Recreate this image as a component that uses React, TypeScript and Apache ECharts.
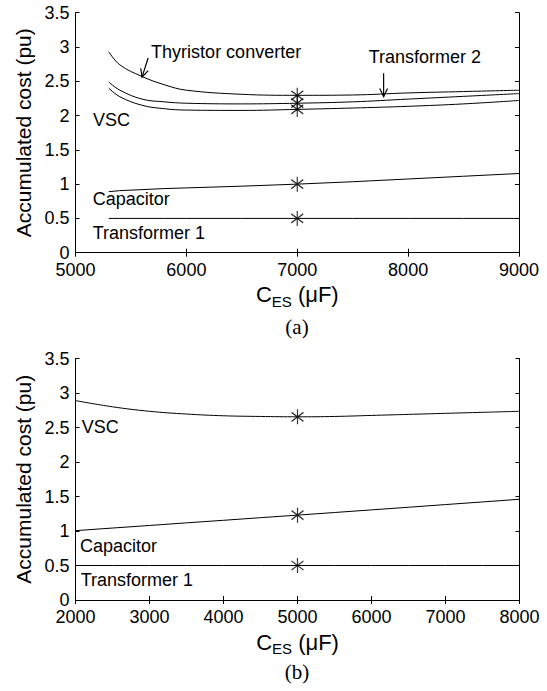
import React, { useEffect, useRef } from "react";
import * as echarts from "echarts";

// ---- data: plot (a) ----
const xA = [5300, 5400, 5600, 5800, 6000, 6500, 7000, 7500, 8000, 8500, 9000];
const thyristorA = [2.93, 2.74, 2.57, 2.45, 2.37, 2.31, 2.295, 2.30, 2.33, 2.35, 2.37];
const transformer2A = [2.49, 2.37, 2.24, 2.2, 2.18, 2.17, 2.18, 2.2, 2.24, 2.28, 2.32];
const vscA = [2.4, 2.275, 2.15, 2.1, 2.08, 2.075, 2.09, 2.11, 2.135, 2.17, 2.22];
const capacitorA = [0.89, 0.905, 0.92, 0.935, 0.945, 0.97, 1.0, 1.035, 1.075, 1.115, 1.155];
const transformer1A = [0.5, 0.5, 0.5, 0.5, 0.5, 0.5, 0.5, 0.5, 0.5, 0.5, 0.5];
const optimumA = 7000;

// ---- data: plot (b) ----
const xB = [2000, 2500, 3000, 3500, 4000, 4500, 5000, 5500, 6000, 6500, 7000, 7500, 8000];
const vscB = [2.89, 2.8, 2.735, 2.695, 2.67, 2.66, 2.655, 2.66, 2.675, 2.69, 2.705, 2.72, 2.735];
const capacitorB = [1.005, 1.043, 1.08, 1.118, 1.155, 1.193, 1.23, 1.268, 1.306, 1.344, 1.383, 1.421, 1.46];
const transformer1B = [0.5, 0.5, 0.5, 0.5, 0.5, 0.5, 0.5, 0.5, 0.5, 0.5, 0.5, 0.5, 0.5];
const optimumB = 5000;

// axis ranges / ticks
const yTicks = { min: 0, max: 3.5, interval: 0.5 };
const xRangeA = { min: 5000, max: 9000, interval: 1000 };
const xRangeB = { min: 2000, max: 8000, interval: 1000 };

// annotations in data coordinates
const labelsA = [
  { text: "Thyristor converter", x: 5682, y: 2.934 },
  { text: "Transformer 2", x: 7644, y: 2.854 },
  { text: "VSC", x: 5158, y: 1.935 },
  { text: "Capacitor", x: 5155, y: 0.776 },
  { text: "Transformer 1", x: 5155, y: 0.287 },
];
const arrowsA = [
  { from: [5655, 2.84], to: [5600, 2.56] },
  { from: [7779, 2.616], to: [7779, 2.275] },
];
const labelsB = [
  { text: "VSC", x: 2084, y: 2.507 },
  { text: "Capacitor", x: 2061, y: 0.783 },
  { text: "Transformer 1", x: 2070, y: 0.283 },
];

const FONT = "'Liberation Sans', Arial, sans-serif";
const SERIF = "'Liberation Serif', 'Times New Roman', serif";
const STAR = "path://M0,-1L0,1M-0.8,-0.6L0.8,0.6M-0.8,0.6L0.8,-0.6";

function pairs(xs: number[], ys: number[]) {
  return xs.map((x, i) => [x, ys[i]]);
}

export default function App() {
  const ref = useRef<HTMLDivElement>(null);
  useEffect(() => {
    if (!ref.current) return;
    const chart = echarts.init(ref.current, undefined, { renderer: "svg" });

    const xName = {
      name: "{c|C}{s|ES}{c| (μF)}",
      nameLocation: "middle" as const,
      nameGap: 31,
      nameTextStyle: {
        rich: {
          c: { fontSize: 22, fontFamily: FONT, color: "#000", verticalAlign: "top" },
          s: { fontSize: 15, fontFamily: FONT, color: "#000", padding: [10, 0, 0, 0], verticalAlign: "top" },
        },
      },
    };
    const axisCommon = {
      axisLine: { show: true, lineStyle: { color: "#000", width: 1 } },
      axisTick: { show: true, inside: true, length: 4, lineStyle: { color: "#000" } },
      splitLine: { show: false },
    };
    const fmt = (v: number) => String(v);
    const mainX = (gi: number, range: any) => ({
      type: "value" as const,
      gridIndex: gi,
      position: "bottom" as const,
      ...range,
      ...axisCommon,
      axisLabel: { color: "#000", fontSize: 18, fontFamily: FONT, margin: 8, formatter: fmt },
      ...xName,
    });
    const topX = (gi: number, range: any) => ({
      type: "value" as const,
      gridIndex: gi,
      position: "top" as const,
      ...range,
      ...axisCommon,
      axisLabel: { show: false },
    });
    const mainY = (gi: number) => ({
      type: "value" as const,
      gridIndex: gi,
      position: "left" as const,
      ...yTicks,
      ...axisCommon,
      axisLabel: { color: "#000", fontSize: 18, fontFamily: FONT, margin: 6, formatter: fmt },
      name: "Accumulated cost (pu)",
      nameLocation: "middle" as const,
      nameGap: 38,
      nameTextStyle: { color: "#000", fontSize: 21, fontFamily: FONT },
    });
    const rightY = (gi: number) => ({
      type: "value" as const,
      gridIndex: gi,
      position: "right" as const,
      ...yTicks,
      ...axisCommon,
      axisLabel: { show: false },
    });

    const line = (name: string, xi: number, yi: number, xs: number[], ys: number[], smooth: number | boolean) => ({
      type: "line" as const,
      name,
      xAxisIndex: xi,
      yAxisIndex: yi,
      data: pairs(xs, ys),
      showSymbol: false,
      symbol: "none",
      smooth,
      lineStyle: { color: "#000", width: 1 },
      silent: true,
    });
    const stars = (xi: number, yi: number, xs: number[], opt: number, lists: number[][]) => {
      const idx = xs.indexOf(opt);
      return {
        type: "scatter" as const,
        xAxisIndex: xi,
        yAxisIndex: yi,
        symbol: STAR,
        symbolSize: [12, 15],
        itemStyle: { color: "none", borderColor: "#000", borderWidth: 1.3 },
        data: lists.map((l) => [opt, l[idx]]),
        silent: true,
        z: 5,
      };
    };

    chart.setOption({
      animation: false,
      backgroundColor: "#fff",
      grid: [
        { left: 75.5, width: 443.5, top: 12.7, height: 240 },
        { left: 75.5, width: 444, top: 358.5, height: 241.5 },
      ],
      xAxis: [mainX(0, xRangeA), topX(0, xRangeA), mainX(1, xRangeB), topX(1, xRangeB)],
      yAxis: [mainY(0), rightY(0), mainY(1), rightY(1)],
      series: [
        line("Thyristor converter", 0, 0, xA, thyristorA, 0.4),
        line("Transformer 2", 0, 0, xA, transformer2A, 0.4),
        line("VSC", 0, 0, xA, vscA, 0.4),
        line("Capacitor", 0, 0, xA, capacitorA, false),
        line("Transformer 1", 0, 0, xA, transformer1A, false),
        stars(0, 0, xA, optimumA, [thyristorA, transformer2A, vscA, capacitorA, transformer1A]),
        line("VSC", 2, 2, xB, vscB, 0.4),
        line("Capacitor", 2, 2, xB, capacitorB, false),
        line("Transformer 1", 2, 2, xB, transformer1B, false),
        stars(2, 2, xB, optimumB, [vscB, capacitorB, transformer1B]),
      ],
    });

    const px = (xi: number, yi: number, p: number[]) =>
      chart.convertToPixel({ xAxisIndex: xi, yAxisIndex: yi } as any, p) as number[];

    const graphics: any[] = [];
    const addLabels = (labels: any[], xi: number, yi: number) => {
      labels.forEach((l) => {
        const [x, y] = px(xi, yi, [l.x, l.y]);
        graphics.push({
          type: "text",
          x,
          y,
          silent: true,
          style: { text: l.text, fontSize: 18, fontFamily: FONT, fill: "#000", align: "left", verticalAlign: "middle" },
        });
      });
    };
    addLabels(labelsA, 0, 0);
    addLabels(labelsB, 2, 2);
    arrowsA.forEach((a) => {
      const [x1, y1] = px(0, 0, a.from);
      const [x2, y2] = px(0, 0, a.to);
      const ang = Math.atan2(y2 - y1, x2 - x1);
      const L = 9;
      const w = 0.45;
      const p1 = [x2 - L * Math.cos(ang - w), y2 - L * Math.sin(ang - w)];
      const p2 = [x2 - L * Math.cos(ang + w), y2 - L * Math.sin(ang + w)];
      graphics.push({ type: "line", silent: true, shape: { x1, y1, x2, y2 }, style: { stroke: "#000", lineWidth: 1.2 } });
      graphics.push({ type: "polyline", silent: true, shape: { points: [p1, [x2, y2], p2] }, style: { stroke: "#000", lineWidth: 1.2, fill: "none" } });
    });
    const captionX = 297;
    graphics.push({ type: "text", x: captionX, y: 327, silent: true, style: { text: "(a)", fontSize: 21, fontFamily: SERIF, fill: "#000", align: "center", verticalAlign: "middle" } });
    graphics.push({ type: "text", x: captionX, y: 672, silent: true, style: { text: "(b)", fontSize: 21, fontFamily: SERIF, fill: "#000", align: "center", verticalAlign: "middle" } });
    chart.setOption({ graphic: graphics });

    return () => chart.dispose();
  }, []);
  return (
    <div
      ref={ref}
      style={{ position: "absolute", left: 0, top: 0, width: 547, height: 691, background: "#fff" }}
    />
  );
}
